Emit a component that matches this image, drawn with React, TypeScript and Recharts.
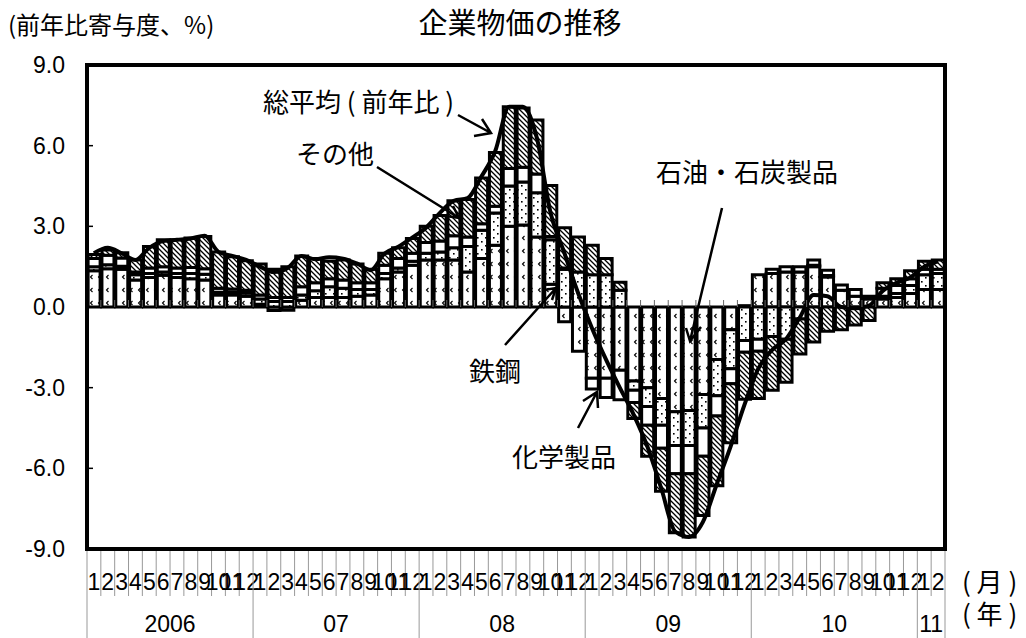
import { Bar, ComposedChart, Line, ReferenceLine, XAxis, YAxis } from "recharts";

// months Jan 2006 .. Feb 2011
const months = [
  "1", "2", "3", "4", "5", "6", "7", "8", "9", "10", "11", "12",
  "1", "2", "3", "4", "5", "6", "7", "8", "9", "10", "11", "12",
  "1", "2", "3", "4", "5", "6", "7", "8", "9", "10", "11", "12",
  "1", "2", "3", "4", "5", "6", "7", "8", "9", "10", "11", "12",
  "1", "2", "3", "4", "5", "6", "7", "8", "9", "10", "11", "12",
  "1", "2",
];
const years = ["2006", "07", "08", "09", "10", "11"];
const yearStarts = [0, 12, 24, 36, 48, 60];
const yearCounts = [12, 12, 12, 12, 12, 2];
const yTicks = [-9, -6, -3, 0, 3, 6, 9];

// 石油・石炭製品
const oil = [
  1.35, 1.42, 1.4, 1.0, 1.1, 1.18, 1.1, 1.05, 1.0, 0.45, 0.45, 0.4,
  0.1, -0.13, -0.12, 0.25, 0.35, 0.35, 0.35, 0.4, 0.45, 1.05, 1.3, 1.55,
  1.75, 1.75, 1.75, 1.3, 1.8, 2.3, 3.0, 3.05, 2.6, 0.85, -0.55, -1.65,
  -2.65, -2.65, -2.35, -2.75, -3.0, -3.4, -3.9, -3.85, -3.25, -1.95, -0.85, 0.05,
  1.2, 1.25, 1.3, 1.3, 1.5, 1.12, 0.62, 0.4, 0.3, 0.3, 0.35, 0.5, 0.65, 0.65,
];
// 鉄鋼
const steel = [
  0.15, 0.15, 0.12, 0.2, 0.15, 0.12, 0.15, 0.2, 0.22, 0.1, 0.1, 0.12,
  0.2, 0.2, 0.2, 0.2, 0.25, 0.4, 0.35, 0.25, 0.2, 0.2, 0.15, 0.15,
  0.25, 0.3, 0.45, 0.95, 1.05, 1.2, 1.5, 1.6, 1.65, 1.65, 1.4, 1.3,
  1.2, 1.2, 0.62, -0.35, -0.7, -1.0, -1.25, -1.3, -1.25, -1.35, -1.45, -1.25,
  -1.2, -1.1, -1.2, -0.45, 0.05, 0.05, 0, 0, 0, 0.1, 0.15, 0.3, 0.55, 0.6,
];
// 化学製品
const chem = [
  0.3, 0.35, 0.3, 0.1, 0.2, 0.2, 0.2, 0.22, 0.2, 0.15, 0.12, 0.1,
  0.15, 0.15, 0.15, 0.3, 0.3, 0.3, 0.3, 0.25, 0.25, 0.3, 0.35, 0.3,
  0.4, 0.4, 0.45, 0.35, 0.25, 0.25, 0.65, 0.55, 0.7, 0.12, 0.05, 0,
  -0.4, -0.72, -1.1, -0.45, -0.7, -0.85, -1.05, -1.05, -1.05, -0.75, -0.55, -0.43,
  -0.45, 0.15, 0.2, 0.2, 0.2, 0.2, 0.2, 0.25, 0.1, 0.3, 0.3, 0.25, 0.2, 0.15,
];
// その他
const other = [
  0.15, 0.2, 0.2, 0.45, 0.8, 1.0, 1.05, 1.1, 1.2, 1.35, 1.2, 1.1,
  1.15, 1.05, 1.15, 1.15, 0.9, 0.65, 0.75, 0.7, 0.5, 0.45, 0.4, 0.55,
  0.6, 0.95, 1.3, 1.4, 1.7, 2.0, 2.3, 2.2, 2.0, 1.9, 1.5, 1.3,
  1.1, 0.6, 0.3, -0.6, -1.15, -1.6, -2.2, -2.35, -2.2, -2.6, -2.2, -1.75,
  -1.75, -2.0, -1.6, -1.3, -1.3, -0.9, -0.85, -0.67, -0.5, 0.2, 0.25, 0.3, 0.3, 0.35,
];
// 総平均（前年比）
const total = [
  2.0, 2.2, 2.0, 1.75, 2.2, 2.45, 2.5, 2.55, 2.65, 2.05, 1.9, 1.75,
  1.5, 1.3, 1.45, 1.9, 1.78, 1.85, 1.8, 1.62, 1.37, 1.99, 2.24, 2.58,
  2.95, 3.5, 3.95, 4.05, 4.85, 5.8, 7.45, 7.45, 6.3, 3.5, 2.0, 0.5,
  -0.8, -1.95, -3.0, -4.0, -5.2, -6.75, -8.35, -8.55, -8.0, -6.6, -5.2, -3.65,
  -2.3, -1.6, -1.2, -0.4, 0.45, 0.4, 0.0, -0.05, 0.05, 0.6, 0.9, 1.1, 1.5, 1.7,
];

const data = months.map((m, i) => ({
  idx: i,
  oil: oil[i],
  steel: steel[i],
  chem: chem[i],
  other: other[i],
  total: total[i],
}));

const W = 1026;
const H = 638;
const PLOT = { left: 87, top: 65, width: 858, height: 484 };
const BW = PLOT.width / months.length;
const BOTTOM = PLOT.top + PLOT.height;
const ZERO_Y = PLOT.top + PLOT.height * (9 / 18);
const NUM_FONT = "'Liberation Sans', Arial, sans-serif";
const JP_FONT = "'Noto Sans CJK JP', 'Noto Sans', sans-serif";

function MonthTick(props: any) {
  const { x, payload } = props;
  const i = Number(payload.value);
  const x0 = x - BW / 2;
  const yearPos = yearStarts.indexOf(i);
  const isLast = i === months.length - 1;
  let yearLabel: any = null;
  yearStarts.forEach((s, k) => {
    const n = yearCounts[k];
    if (i === s + Math.floor(n / 2)) {
      const cx = n % 2 === 0 ? x0 : x;
      yearLabel = (
        <text x={cx} y={BOTTOM + 83} textAnchor="middle" fontSize={23} fontFamily={NUM_FONT} fill="#000">
          {years[k]}
        </text>
      );
    }
  });
  return (
    <g>
      <line x1={x0} y1={BOTTOM} x2={x0} y2={yearPos >= 0 ? H : BOTTOM + 47} stroke="#999" strokeWidth={1} />
      {isLast && <line x1={x + BW / 2} y1={BOTTOM} x2={x + BW / 2} y2={H} stroke="#999" strokeWidth={1} />}
      {i > 0 && <line x1={x0} y1={ZERO_Y} x2={x0} y2={ZERO_Y - 7} stroke="#666" strokeWidth={1} />}
      <text x={x} y={BOTTOM + 41} textAnchor="middle" fontSize={23} fontFamily={NUM_FONT} fill="#000">
        {months[i]}
      </text>
      {yearLabel}
    </g>
  );
}

function ValueTick(props: any) {
  const { y, payload } = props;
  const v = Number(payload.value);
  return (
    <g>
      <line x1={PLOT.left} y1={y} x2={PLOT.left + 6} y2={y} stroke="#000" strokeWidth={1.5} />
      <text x={PLOT.left - 22} y={y} dy={8} textAnchor="end" fontSize={23} fontFamily={NUM_FONT} fill="#000">
        {v.toFixed(1)}
      </text>
    </g>
  );
}

export default function App() {
  const barStroke = { stroke: "#000", strokeWidth: 3 };
  return (
    <div style={{ position: "absolute", left: 0, top: 0, width: W, height: H, background: "#fff" }}>
      <ComposedChart
        width={W}
        height={H}
        data={data}
        stackOffset="sign"
        barCategoryGap="8%"
        margin={{ top: PLOT.top, right: W - PLOT.left - PLOT.width, bottom: 0, left: 0 }}
      >
        <defs>
          <pattern id="patOil" width="8" height="13" patternUnits="userSpaceOnUse">
            <rect width="8" height="13" fill="#fff" />
            <path d="M4.5,2 L2.5,4 L4.5,6" fill="none" stroke="#000" strokeWidth="1.1" />
          </pattern>
          <pattern id="patSteel" width="8" height="8" patternUnits="userSpaceOnUse">
            <rect width="8" height="8" fill="#fff" />
            <rect x="1" y="1" width="1.6" height="1.6" fill="#000" />
            <rect x="5" y="5" width="1.6" height="1.6" fill="#000" />
          </pattern>
          <pattern id="patOther" width="5" height="5" patternUnits="userSpaceOnUse">
            <rect width="5" height="5" fill="#fff" />
            <path d="M-1,-1 L6,6 M-1,4 L1,6 M4,-1 L6,1" stroke="#000" strokeWidth="1.3" />
          </pattern>
        </defs>
        <XAxis
          dataKey="idx"
          interval={0}
          axisLine={false}
          tickLine={false}
          tickSize={0}
          tickMargin={0}
          height={H - BOTTOM}
          tick={<MonthTick />}
        />
        <YAxis
          domain={[-9, 9]}
          ticks={yTicks}
          axisLine={false}
          tickLine={false}
          tickSize={0}
          tickMargin={0}
          width={PLOT.left}
          tick={<ValueTick />}
        />
        <Bar dataKey="oil" stackId="a" fill="url(#patOil)" {...barStroke} isAnimationActive={false} />
        <Bar dataKey="steel" stackId="a" fill="url(#patSteel)" {...barStroke} isAnimationActive={false} />
        <Bar dataKey="chem" stackId="a" fill="#fff" {...barStroke} isAnimationActive={false} />
        <Bar dataKey="other" stackId="a" fill="url(#patOther)" {...barStroke} isAnimationActive={false} />
        <ReferenceLine y={0} stroke="#000" strokeWidth={1.5} />
        <Line
          dataKey="total"
          type="monotone"
          stroke="#000"
          strokeWidth={4}
          dot={false}
          isAnimationActive={false}
        />
      </ComposedChart>
      <svg
        width={W}
        height={H}
        style={{ position: "absolute", left: 0, top: 0, pointerEvents: "none" }}
      >
        <rect x={PLOT.left} y={PLOT.top} width={PLOT.width} height={PLOT.height} fill="none" stroke="#000" strokeWidth={4} />
        <text x={8} y={34} fontSize={24} fontFamily={JP_FONT} fill="#000">(前年比寄与度、%)</text>
        <text x={520} y={34} textAnchor="middle" fontSize={29} fontFamily={JP_FONT} fill="#000">企業物価の推移</text>
        <text x={962} y={592} fontSize={26} fontFamily={JP_FONT} fill="#000">( 月 )</text>
        <text x={962} y={624} fontSize={26} fontFamily={JP_FONT} fill="#000">( 年 )</text>

        <g fontSize={26} fontFamily={JP_FONT} fill="#000">
          <text x={263} y={112}>総平均 (  前年比  )</text>
          <text x={296} y={164}>その他</text>
          <text x={656} y={182}>石油・石炭製品</text>
          <text x={469} y={381}>鉄鋼</text>
          <text x={512} y={467}>化学製品</text>
        </g>
        <g stroke="#000" strokeWidth={2.5} fill="none">
          <path d="M458,115 L491,133 M482,119 L491,133 L474,136" />
          <path d="M377,167 L459,218 M446,216 L459,218 L453,206" />
          <path d="M722,208 L690,341 M686,328 L690,341 L701,327" />
          <path d="M505,345 L556,288 M544,290 L556,288 L552,300" />
          <path d="M578,428 L597,392 M583,401 L597,392 L598,408" />
        </g>
      </svg>
    </div>
  );
}
